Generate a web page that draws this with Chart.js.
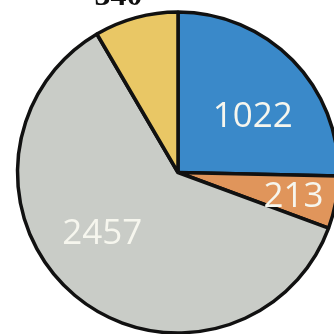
<!DOCTYPE html>
<html>
<head>
<meta charset="utf-8">
<script src="https://cdn.jsdelivr.net/npm/chart.js@4.4.0/dist/chart.umd.min.js"></script>
<style>
  html, body { margin: 0; padding: 0; width: 334px; height: 334px; overflow: hidden; background: #fff; }
  #wrap { position: absolute; left: 0; top: 0; width: 360px; height: 340px; }
</style>
</head>
<body>
<div id="wrap"><canvas id="pie"></canvas></div>
<script>
const categories = ['A', 'B', 'C', 'D'];
const values = [1022, 213, 2457, 340];
const colors = ['#3a89c9', '#e0955b', '#c9ccc7', '#e9c765'];

// label anchors, relative to pie centre in units of radius
const labelAnchors = [[0.466, -0.348], [0.72, 0.155], [-0.472, 0.385], [-0.37, -1.045]];

const valueLabels = {
    id: 'valueLabels',
    afterDatasetsDraw(chart) {
        const ctx = chart.ctx;
        const arcs = chart.getDatasetMeta(0).data;
        ctx.save();
        arcs.forEach((arc, i) => {
            const r = arc.outerRadius;
            const x = arc.x + labelAnchors[i][0] * r;
            const y = arc.y + labelAnchors[i][1] * r;
            ctx.textAlign = 'center';
            if (i === 3) {
                // outside label above the yellow slice
                ctx.font = 'bold 32px "Liberation Serif", serif';
                ctx.fillStyle = '#111';
                ctx.textBaseline = 'alphabetic';
            } else {
                ctx.font = '35px "Open Sans", sans-serif';
                ctx.fillStyle = '#f6f6ee';
                ctx.textBaseline = 'middle';
            }
            ctx.fillText(String(values[i]), x, y);
        });
        ctx.restore();
    }
};

new Chart(document.getElementById('pie'), {
    type: 'pie',
    data: {
        labels: categories,
        datasets: [{
            data: values,
            backgroundColor: colors,
            borderColor: '#111',
            borderWidth: 3.5
        }]
    },
    options: {
        responsive: true,
        maintainAspectRatio: false,
        animation: false,
        layout: { padding: { left: 15.25, top: 10.25, right: 19.25, bottom: 5.25 } },
        plugins: {
            legend: { display: false },
            tooltip: { enabled: false }
        }
    },
    plugins: [valueLabels]
});
</script>
</body>
</html>
